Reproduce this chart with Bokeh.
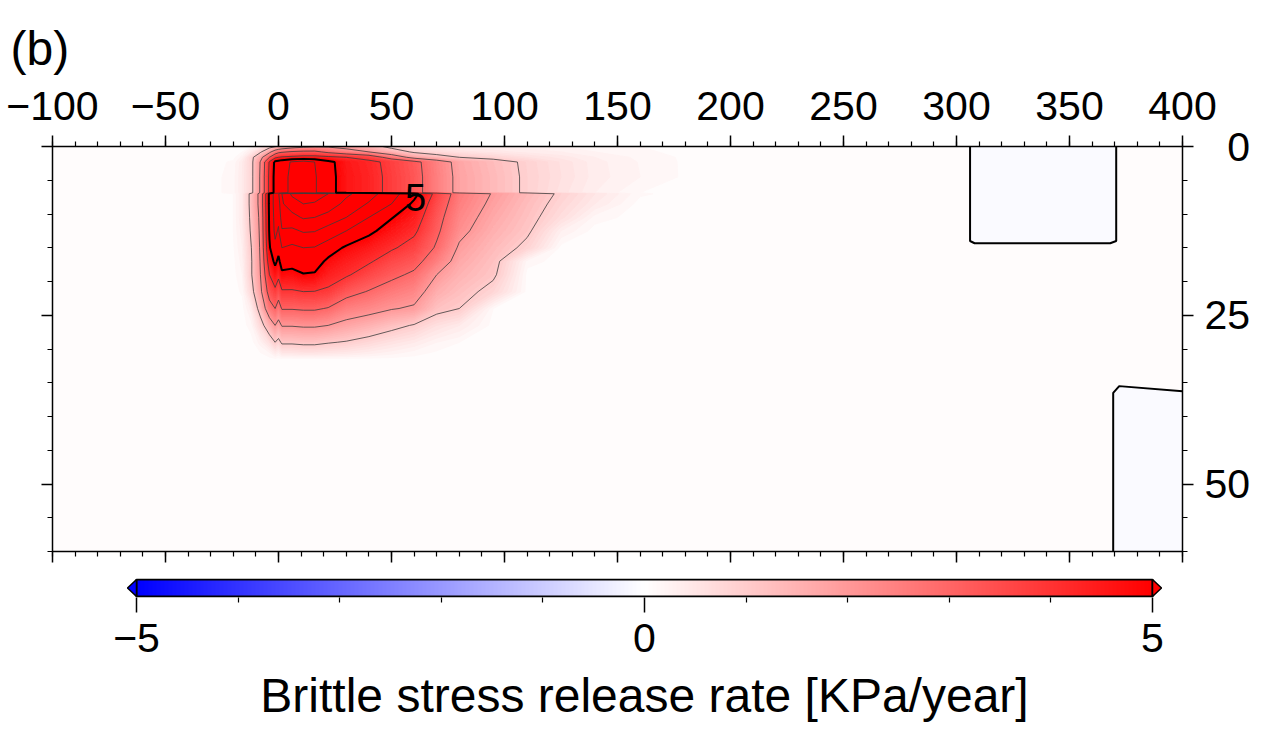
import numpy as np
from bokeh.plotting import figure
from bokeh.models import Range1d, LinearAxis, SingleIntervalTicker, FixedTicker, LinearColorMapper
from bokeh.layouts import column
from bokeh.embed import file_html
from bokeh.resources import INLINE
from bokeh.core.properties import value

FONT = "Liberation Sans"

# ---------------- data ----------------
B = 0.05    # background release rate (KPa/year)
N = -0.10   # slightly negative patches

# main section grid (x in km, depth in km)
x_nodes = [-100, -30, -20, -16, -12, -8, -4, -1.5, 0, 1.5, 6, 11, 16, 22, 30, 40, 50,
           60, 70, 80, 95, 110, 125, 140, 160, 180, 200]
depth_nodes = [0, 0.8, 1.6, 2.3, 4.5, 6.85, 7.0, 8.5, 10.5, 12.5, 15, 17, 19, 21.5,
               24, 26.5, 29, 30.5, 31.5, 60]
rate_grid = [
    [B, B, B, B, 0.1, 0.3, 0.7, 0.95, 1.1, 1.3, 1.6, 1.8, 1.9, 1.9, 1.7, 1.3, 0.8, 0.55, 0.45, 0.35, 0.3, 0.25, 0.2, 0.15, 0.1, 0.06, B],
    [B, B, B, 0.1, 0.4, 0.9, 1.8, 2.5, 2.8, 2.9, 3.1, 3.2, 3.2, 2.8, 2.4, 2.0, 1.4, 0.9, 0.7, 0.55, 0.45, 0.35, 0.3, 0.2, 0.12, 0.07, B],
    [B, B, 0.06, 0.25, 0.8, 1.7, 3.0, 3.8, 4.0, 4.1, 4.2, 4.3, 4.3, 4.2, 4.0, 3.6, 2.6, 1.7, 1.3, 1.0, 0.8, 0.6, 0.45, 0.3, 0.17, 0.08, B],
    [B, B, 0.12, 0.38, 0.8, 2.05, 4.1, 5.2, 5.4, 5.6, 6.1, 6.4, 6.0, 5.25, 4.55, 4.25, 3.75, 3.25, 2.45, 1.75, 1.3, 0.88, 0.58, 0.34, 0.19, 0.08, B],
    [B, B, 0.15, 0.4, 0.8, 2.1, 4.2, 5.3, 5.5, 5.7, 6.2, 6.5, 6.1, 5.3, 4.6, 4.3, 3.8, 3.3, 2.5, 1.8, 1.35, 0.9, 0.6, 0.35, 0.2, 0.08, B],
    [B, B, 0.15, 0.4, 0.8, 2.1, 4.2, 5.3, 5.5, 5.7, 6.2, 6.5, 6.1, 5.3, 4.6, 4.3, 3.8, 3.3, 2.5, 1.8, 1.35, 0.9, 0.55, 0.3, 0.1, B, B],
    [B, B, 0.1, 0.4, 1.2, 2.3, 5.2, 6.4, 6.9, 8.0, 9.2, 9.8, 9.5, 9.0, 8.2, 7.4, 6.4, 5.3, 3.7, 2.6, 1.95, 1.4, 0.9, 0.5, 0.12, B, B],
    [B, B, 0.1, 0.4, 1.2, 2.3, 5.2, 6.4, 6.5, 7.9, 8.5, 9.0, 8.9, 8.6, 7.7, 6.9, 6.0, 4.8, 3.5, 2.5, 1.85, 1.3, 0.8, 0.4, B, B, B],
    [B, B, 0.1, 0.4, 1.15, 2.2, 5.15, 6.3, 6.2, 7.5, 7.7, 8.1, 8.0, 7.6, 7.0, 6.0, 5.05, 4.45, 3.3, 2.35, 1.7, 1.2, 0.65, 0.15, B, B, B],
    [B, B, 0.1, 0.35, 1.1, 2.15, 5.1, 6.2, 5.9, 6.9, 6.8, 7.1, 7.05, 6.6, 6.0, 5.2, 4.6, 4.15, 3.15, 2.2, 1.55, 1.1, 0.3, B, B, B, B],
    [B, B, 0.08, 0.3, 1.0, 2.1, 4.9, 5.8, 5.3, 6.0, 5.8, 6.0, 5.95, 5.5, 4.85, 4.5, 4.1, 3.7, 2.9, 1.9, 1.35, 0.85, B, B, B, B, B],
    [B, B, 0.06, 0.25, 0.95, 2.05, 4.5, 5.2, 4.8, 5.4, 5.3, 5.5, 5.45, 4.8, 4.45, 4.1, 3.6, 3.3, 2.5, 1.7, 1.2, 0.15, B, B, B, B, B],
    [B, B, B, 0.2, 0.95, 2.0, 4.0, 4.6, 4.2, 4.8, 4.75, 4.95, 4.9, 4.4, 4.1, 3.6, 3.2, 2.85, 2.0, 1.5, 1.1, B, B, B, B, B, B],
    [B, B, B, 0.12, 0.75, 1.8, 3.4, 3.8, 3.4, 3.9, 3.9, 4.0, 3.98, 3.85, 3.3, 2.95, 2.6, 2.35, 1.6, 1.25, 0.8, B, B, B, B, B, B],
    [B, B, B, B, 0.35, 1.3, 2.6, 3.0, 2.6, 3.05, 3.05, 3.1, 3.1, 2.95, 2.5, 2.3, 2.05, 1.9, 1.2, 1.0, 0.1, B, B, B, B, B, B],
    [B, B, B, B, 0.15, 0.7, 1.5, 2.0, 1.7, 2.05, 2.05, 2.1, 2.1, 2.0, 1.75, 1.5, 1.2, 0.95, 0.6, 0.4, B, B, B, B, B, B, B],
    [B, B, B, B, B, 0.25, 0.6, 1.0, 0.8, 1.1, 1.1, 1.15, 1.15, 1.05, 0.95, 0.75, 0.55, 0.4, 0.2, 0.1, B, B, B, B, B, B, B],
    [B, B, B, B, B, 0.1, 0.2, 0.4, 0.3, 0.5, 0.5, 0.55, 0.55, 0.5, 0.45, 0.35, 0.25, 0.15, 0.08, B, B, B, B, B, B, B, B],
    [B] * 27,
    [B] * 27,
]

# eastern section grid
x_nodes_east = [200, 300, 305, 308, 368, 372, 400]
depth_nodes_east = [0, 14, 14.5, 35, 36.5, 60]
rate_grid_east = [
    [B, B, B, N, N, B, B],
    [B, B, B, N, N, B, B],
    [B, B, B, B, B, B, B],
    [B, B, B, B, B, B, B],
    [B, B, B, B, B, N, -0.01],
    [B, B, B, B, B, N, N],
]

x_ticks = [-100, -50, 0, 50, 100, 150, 200, 250, 300, 350, 400]
x_tick_labels = ["\u2212100", "\u221250", "0", "50", "100", "150", "200", "250", "300", "350", "400"]
depth_ticks = [0, 25, 50]
depth_tick_labels = ["\u20070", "25", "50"]

thin_levels = [1, 2, 3, 4, 6, 7, 8, 9]
thick_levels_main = [5]
thick_levels_east = [0]
contour_label_text = ["5"]
contour_label_x = [60.6]
contour_label_depth = [7.5]

cbar_low, cbar_high = -5, 5
cbar_ticks = [-5, 0, 5]
cbar_tick_labels = ["\u22125", "0", "5"]
cbar_minor_ticks = [-4, -3, -2, -1, 1, 2, 3, 4]
cbar_title = "Brittle stress release rate [KPa/year]"
panel_title = "(b)"

# ---------------- layout (pixels) ----------------
PAGE_W = 1261
FRAME_L, FRAME_W, FRAME_T, FRAME_H = 52, 1130, 146, 405
BORDER_R = PAGE_W - FRAME_L - FRAME_W
CB_LEFT_PX, CB_RIGHT_PX = 136, 1152   # colour-bar ends on the page


# ---------------- colours ----------------
def polar(v):
    t = max(-1.0, min(1.0, v / 5.0))
    if t >= 0:
        r, g, b = 255, 255 * (1 - t), 255 * (1 - t)
    else:
        r, g, b = 255 * (1 + t), 255 * (1 + t), 255
    return "#%02x%02x%02x" % (int(round(r)), int(round(g)), int(round(b)))


fill_levels = [-1.0, -0.2] + [round(0.1 * i, 2) for i in range(0, 51)] + [20.0]
fill_colors = [polar(0.5 * (a + b)) for a, b in zip(fill_levels[:-1], fill_levels[1:])]

# ---------------- main figure ----------------
p = figure(frame_width=FRAME_W, frame_height=FRAME_H,
           x_range=Range1d(-100, 400), y_range=Range1d(60, 0),
           x_axis_location="above", y_axis_location="right",
           output_backend="svg", toolbar_location=None,
           min_border_left=FRAME_L, min_border_right=BORDER_R, min_border_top=FRAME_T,
           min_border_bottom=20,
           background_fill_color="white", border_fill_color="white")
p.grid.visible = False
p.outline_line_color = "black"
p.outline_line_width = 1


def style_axis(ax, interval, labels):
    ax.ticker = SingleIntervalTicker(interval=interval, num_minor_ticks=5)
    ax.major_tick_in = 0
    ax.major_tick_out = 11
    ax.minor_tick_in = 0
    ax.minor_tick_out = 5
    ax.axis_line_width = 1.5
    ax.axis_line_color = "black"
    ax.major_tick_line_width = 1.5
    ax.minor_tick_line_width = 1.2
    ax.major_label_text_font = FONT
    if labels:
        ax.major_label_text_font_size = "41px"
        ax.major_label_text_color = "black"
    else:
        ax.major_label_text_font_size = "1px"
        ax.major_label_text_color = None
        ax.major_label_standoff = 0


top = p.xaxis[0]
style_axis(top, 50, True)
top.major_label_overrides = {t: l for t, l in zip(x_ticks, x_tick_labels)}
top.major_label_standoff = 16

right = p.yaxis[0]
style_axis(right, 25, True)
right.major_label_overrides = {t: l for t, l in zip(depth_ticks, depth_tick_labels)}
right.major_label_standoff = 11

bottom = LinearAxis()
style_axis(bottom, 50, False)
p.add_layout(bottom, "below")
left = LinearAxis()
style_axis(left, 25, False)
p.add_layout(left, "left")

# filled field
for xs_, ds_, z_ in ((x_nodes, depth_nodes, rate_grid), (x_nodes_east, depth_nodes_east, rate_grid_east)):
    cr = p.contour(xs_, ds_, np.array(z_, dtype=float), levels=fill_levels, fill_color=fill_colors)
    g = cr.fill_renderer.glyph
    g.line_color = g.fill_color
    g.line_alpha = 1.0
    g.line_width = 1.0

z_main = np.array(rate_grid, dtype=float)
z_east = np.array(rate_grid_east, dtype=float)
p.contour(x_nodes, depth_nodes, z_main, levels=thin_levels, line_color="#3c3c3c", line_width=0.8)
p.contour(x_nodes, depth_nodes, z_main, levels=thick_levels_main, line_color="black", line_width=2)
p.contour(x_nodes_east, depth_nodes_east, z_east, levels=thick_levels_east, line_color="black", line_width=2)

p.text(x=contour_label_x, y=contour_label_depth, text=contour_label_text,
       text_font=value(FONT), text_font_size="38px", text_align="center",
       text_baseline="middle", text_color="black")

p.title.text = panel_title
p.title.text_font = FONT
p.title.text_font_size = "48px"
p.title.text_font_style = "normal"
p.title.text_color = "black"
p.title.align = "left"
p.title.vertical_align = "bottom"
p.title.offset = -42
p.title.standoff = 28

# ---------------- colour bar figure (frame centred on the bar) ----------------
px_per_unit = (CB_RIGHT_PX - CB_LEFT_PX) / (cbar_high - cbar_low)
cb_margin = (CB_LEFT_PX - FRAME_L) / px_per_unit
cb_frame_w = (CB_RIGHT_PX - CB_LEFT_PX) + 2 * (CB_LEFT_PX - FRAME_L)
ext = 9 / px_per_unit

cb = figure(frame_width=int(cb_frame_w), frame_height=19,
            x_range=Range1d(cbar_low - cb_margin, cbar_high + cb_margin), y_range=Range1d(-0.06, 1.06),
            y_axis_location=None, output_backend="svg", toolbar_location=None,
            min_border_left=FRAME_L, min_border_right=PAGE_W - FRAME_L - int(cb_frame_w),
            min_border_top=7, min_border_bottom=0,
            background_fill_color="white", border_fill_color="white")
cb.grid.visible = False
cb.outline_line_color = None

mapper = LinearColorMapper(palette=[polar(v) for v in np.linspace(cbar_low, cbar_high, 256)],
                           low=cbar_low, high=cbar_high)
cb.image(image=[np.linspace(cbar_low, cbar_high, 512).reshape(1, -1)], x=cbar_low, y=0,
         dw=cbar_high - cbar_low, dh=1, color_mapper=mapper)
cb.quad(left=[cbar_low], right=[cbar_high], bottom=[0], top=[1], fill_color=None,
        line_color="black", line_width=2)
cb.patch([cbar_low, cbar_low - ext, cbar_low], [0, 0.5, 1], fill_color=polar(cbar_low),
         line_color="black", line_width=1.5)
cb.patch([cbar_high, cbar_high + ext, cbar_high], [0, 0.5, 1], fill_color=polar(cbar_high),
         line_color="black", line_width=1.5)

ax = cb.xaxis[0]
ax.ticker = FixedTicker(ticks=cbar_ticks, minor_ticks=cbar_minor_ticks)
ax.major_label_overrides = {t: l for t, l in zip(cbar_ticks, cbar_tick_labels)}
ax.axis_line_color = None
ax.major_tick_in = 0
ax.major_tick_out = 15
ax.minor_tick_in = 0
ax.minor_tick_out = 5
ax.major_tick_line_width = 1.5
ax.minor_tick_line_width = 1.2
ax.major_label_text_font = FONT
ax.major_label_text_font_size = "41px"
ax.major_label_text_color = "black"
ax.major_label_standoff = 11
ax.axis_label = cbar_title
ax.axis_label_text_font = FONT
ax.axis_label_text_font_size = "48px"
ax.axis_label_text_font_style = "normal"
ax.axis_label_text_color = "black"
ax.axis_label_standoff = 14

layout = column(p, cb, spacing=0)
open("out.html", "w").write(file_html(layout, INLINE))
